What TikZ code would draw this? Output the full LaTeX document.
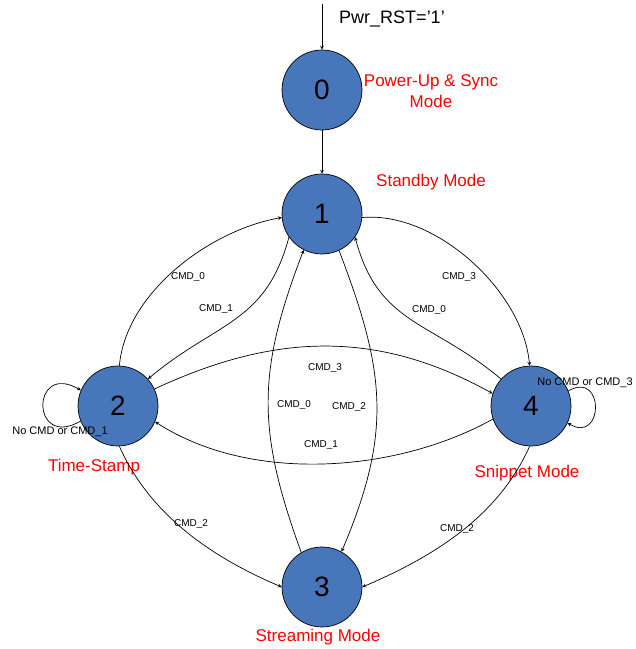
\documentclass[tikz,border=0pt]{standalone}
\usepackage{fontspec}
\setmainfont{Liberation Sans}
\usepackage{tikz}
\definecolor{stateblue}{RGB}{72,118,186}

\begin{document}
\begin{tikzpicture}[%
    >=stealth, x=1pt, y=1pt, line width=0.7pt,
    state/.style={circle, draw, fill=stateblue, minimum size=80pt, inner sep=0pt,
                  font=\fontsize{28}{28}\selectfont},
    modetag/.style={text=red, align=center, font=\fontsize{17}{21}\selectfont},
    cmd/.style={font=\fontsize{10}{12}\selectfont, inner sep=0pt}
  ]
    \useasboundingbox (0,0) rectangle (636,649);

    % states
    \node[state] (s0) at (322,559) {0};
    \node[state] (s1) at (322,435) {1};
    \node[state] (s2) at (118,243) {2};
    \node[state] (s3) at (322,62)  {3};
    \node[state] (s4) at (531,243) {4};
    \coordinate (rst) at (322,645);

    % mode names
    \node[modetag] (m0) at (431,558) {Power-Up \& Sync\\Mode};
    \node[modetag] (m1) at (431,467) {Standby Mode};
    \node[modetag] (m2) at (94,182)  {Time-Stamp};
    \node[modetag] (m3) at (318,12)  {Streaming Mode};
    \node[modetag] (m4) at (527,176) {Snippet Mode};
    \node[font=\fontsize{18}{18}\selectfont] (reset) at (392,630) {Pwr\_RST='1'};

    % transitions
    \path (rst)     edge[->]                                         (s0)
          (s0)      edge[->]                                         (s1)
          (s2.88)   edge[->,out=85,in=190,looseness=0.85]            (s1.185)
          (s1.215)  edge[->,out=255,in=40,looseness=1.15]            (s2.42)
          (s1.355)  edge[->,out=5,in=95,looseness=0.85]              (s4.92)
          (s4.138)  edge[->,out=140,in=285,looseness=1.15]           (s1.325)
          (s2.25)   edge[->,out=25,in=151]                           (s4.162)
          (s4.199)  edge[->,out=209,in=327,looseness=0.85]           (s2.337)
          (s3.121)  edge[->,out=110,in=249,looseness=1.1]            (s1.243)
          (s1.295)  edge[->,out=291,in=67,looseness=1.1]             (s3.61)
          (s2.272)  edge[->,out=294,in=157,looseness=0.9]            (s3.180)
          (s4.268)  edge[->,out=246,in=23,looseness=0.9]             (s3.0)
          (s2.202)  edge[->,out=210,in=150,min distance=58pt]        (s2.157)
          (s4.22)   edge[->,out=30,in=330,min distance=42pt]         (s4.335);

    % conditions
    \node[cmd] (c21) at (188,372) {CMD\_0};
    \node[cmd] (c12) at (216,340) {CMD\_1};
    \node[cmd] (c14) at (459,372) {CMD\_3};
    \node[cmd] (c41) at (429,339) {CMD\_0};
    \node[cmd] (c24) at (325,281) {CMD\_3};
    \node[cmd] (c31) at (294,244) {CMD\_0};
    \node[cmd] (c13) at (349,242) {CMD\_2};
    \node[cmd] (c42) at (321,204) {CMD\_1};
    \node[cmd] (c23) at (191,125) {CMD\_2};
    \node[cmd] (c43) at (457,120) {CMD\_2};
    \node[cmd,font=\fontsize{11}{12}\selectfont] (c22) at (60,217)  {No CMD or CMD\_1};
    \node[cmd,font=\fontsize{11}{12}\selectfont] (c44) at (585,266) {No CMD or CMD\_3};
\end{tikzpicture}
\end{document}
